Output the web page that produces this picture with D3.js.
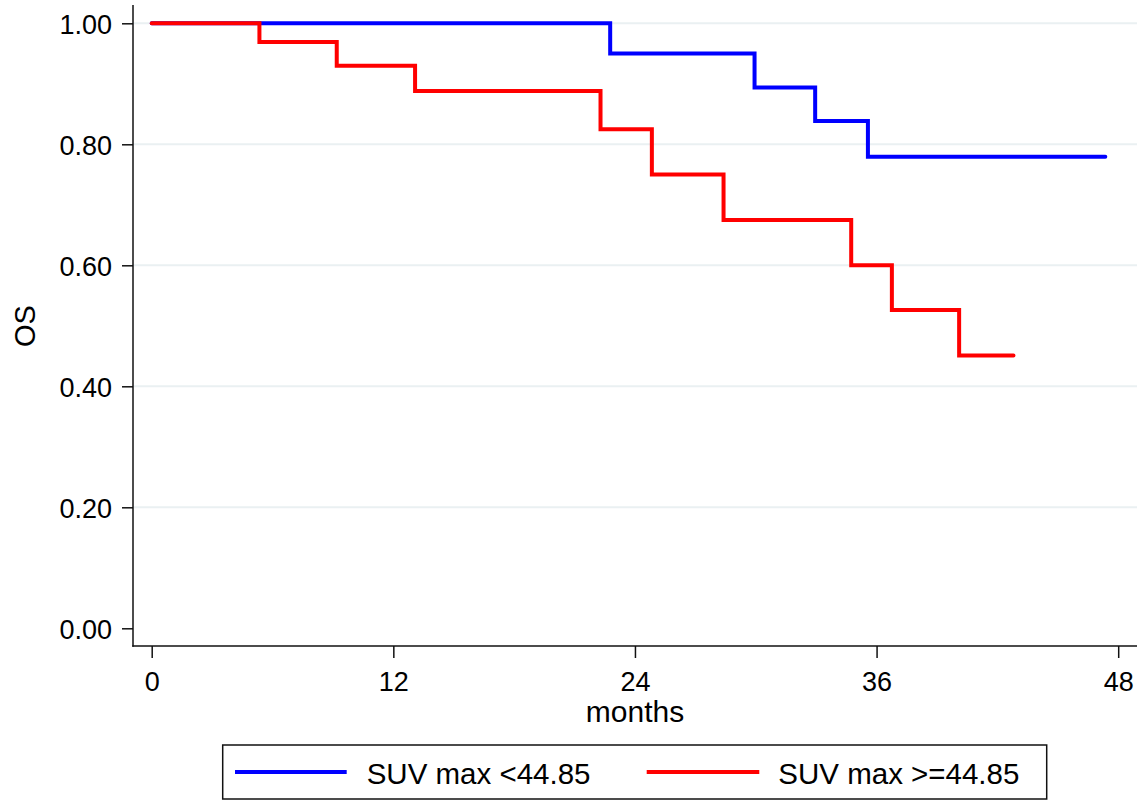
<!DOCTYPE html>
<html>
<head>
<meta charset="utf-8">
<script src="https://cdn.jsdelivr.net/npm/d3@7"></script>
<style>
  body { margin: 0; background: #fff; }
  svg { display: block; font-family: "Liberation Sans", Arial, sans-serif; }
</style>
</head>
<body>
<div id="chart"></div>
<script>
// KM step data (time in months, survival)
const lowTimes = [0, 22.77, 29.94, 32.95, 35.57, 47.36];
const lowSurv  = [1, 0.95, 0.894, 0.8385, 0.7795, 0.7795];
const highTimes = [0, 5.35, 9.19, 13.08, 22.29, 24.84, 28.4, 34.74, 36.76, 40.1, 42.8];
const highSurv  = [1, 0.969, 0.930, 0.888, 0.825, 0.750, 0.675, 0.600, 0.526, 0.451, 0.451];
const seriesNames = ["SUV max <44.85", "SUV max >=44.85"];
const seriesColors = ["#0000ff", "#ff0000"];
const xTicks = [0, 12, 24, 36, 48];
const yTicks = [0, 0.2, 0.4, 0.6, 0.8, 1.0];

const W = 1143, H = 800;
const plot = { left: 133, right: 1137, top: 5, bottom: 646 };

const svg = d3.select("#chart").append("svg")
    .attr("width", W)
    .attr("height", H);

const x = d3.scaleLinear().domain([0, 48]).range([151.7, 1118.2]);
const y = d3.scaleLinear().domain([0, 1]).range([628.3, 23.3]);

// gridlines (none at 0)
svg.append("g")
    .selectAll("line")
    .data(yTicks.filter(d => d > 0))
    .enter()
    .append("line")
    .attr("x1", plot.left)
    .attr("x2", plot.right)
    .attr("y1", d => y(d))
    .attr("y2", d => y(d))
    .attr("stroke", "#eaf0f2")
    .attr("stroke-width", 2);

// axes
const yAxis = svg.append("g")
    .attr("transform", "translate(" + plot.left + ",0)")
    .call(d3.axisLeft(y).tickValues(yTicks).tickSize(11).tickPadding(10)
        .tickFormat(d3.format(".2f")));
yAxis.select(".domain").remove();
yAxis.selectAll(".tick line").attr("stroke", "#111").attr("stroke-width", 1.5);
yAxis.selectAll(".tick text")
    .attr("fill", "#000")
    .style("font-size", "27px")
    .attr("dy", "0.36em");

const xAxis = svg.append("g")
    .attr("transform", "translate(0," + plot.bottom + ")")
    .call(d3.axisBottom(x).tickValues(xTicks).tickSize(12));
xAxis.select(".domain").remove();
xAxis.selectAll(".tick line").attr("stroke", "#111").attr("stroke-width", 1.5);
xAxis.selectAll(".tick text")
    .attr("fill", "#000")
    .style("font-size", "27px")
    .attr("y", 45)
    .attr("dy", 0);

svg.append("line")
    .attr("x1", plot.left).attr("x2", plot.left)
    .attr("y1", plot.top).attr("y2", plot.bottom + 0.75)
    .attr("stroke", "#111").attr("stroke-width", 1.5);
svg.append("line")
    .attr("x1", plot.left - 0.75).attr("x2", plot.right)
    .attr("y1", plot.bottom).attr("y2", plot.bottom)
    .attr("stroke", "#111").attr("stroke-width", 1.5);

// axis titles
svg.append("text")
    .attr("x", 635)
    .attr("y", 722)
    .attr("text-anchor", "middle")
    .style("font-size", "30px")
    .text("months");
svg.append("text")
    .attr("transform", "translate(35,326) rotate(-90)")
    .attr("text-anchor", "middle")
    .style("font-size", "29px")
    .text("OS");

// survival curves
const line = d3.line()
    .x(d => x(d[0]))
    .y(d => y(d[1]))
    .curve(d3.curveStepAfter);

const curves = [
    d3.zip(lowTimes, lowSurv),
    d3.zip(highTimes, highSurv)
];
curves.forEach(function (c, i) {
    svg.append("path")
        .datum(c)
        .attr("d", line)
        .attr("fill", "none")
        .attr("stroke", seriesColors[i])
        .attr("stroke-width", 4)
        .attr("stroke-linecap", "round");
});

// legend
const legend = svg.append("g");
legend.append("rect")
    .attr("x", 222.7)
    .attr("y", 745)
    .attr("width", 824)
    .attr("height", 54)
    .attr("fill", "#fff")
    .attr("stroke", "#111")
    .attr("stroke-width", 1.5);
const legendItems = [
    { x1: 235, x2: 346.7, tx: 366.7 },
    { x1: 646.7, x2: 759.3, tx: 778.3 }
];
legendItems.forEach(function (it, i) {
    legend.append("line")
        .attr("x1", it.x1).attr("x2", it.x2)
        .attr("y1", 772).attr("y2", 772)
        .attr("stroke", seriesColors[i])
        .attr("stroke-width", 4);
    legend.append("text")
        .attr("x", it.tx)
        .attr("y", 784.3)
        .style("font-size", "29.5px")
        .text(seriesNames[i]);
});
</script>
</body>
</html>
